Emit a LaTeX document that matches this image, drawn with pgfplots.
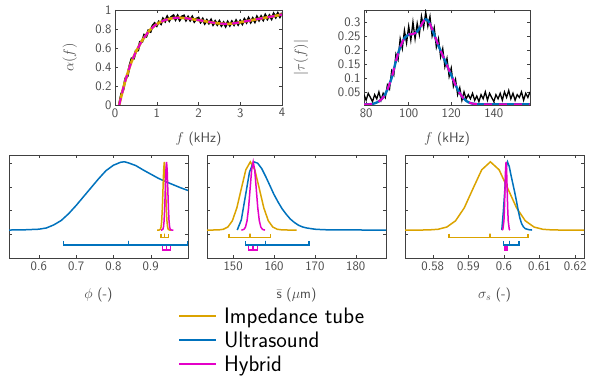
\documentclass[border=0pt]{standalone}
\usepackage{fontspec}
\renewcommand{\familydefault}{\sfdefault}
\usepackage{pgfplots}
\usepackage{pgfplotstable}
\pgfplotsset{compat=1.18}
\definecolor{cgold}{RGB}{219,163,0}
\definecolor{cblue}{RGB}{0,114,189}
\definecolor{cmag}{RGB}{228,0,200}
\definecolor{cgray}{RGB}{72,72,72}

\pgfplotstableread{
f a n
0.10 0.000 0.005
0.15 0.090 0.115
0.20 0.180 0.165
0.25 0.260 0.280
0.30 0.330 0.305
0.35 0.400 0.415
0.40 0.460 0.490
0.45 0.510 0.490
0.50 0.560 0.570
0.55 0.600 0.575
0.60 0.640 0.663
0.65 0.680 0.667
0.70 0.710 0.737
0.75 0.740 0.723
0.80 0.770 0.783
0.85 0.795 0.772
0.90 0.815 0.834
0.95 0.835 0.860
1.00 0.850 0.835
1.05 0.865 0.876
1.10 0.875 0.854
1.15 0.885 0.908
1.20 0.895 0.881
1.25 0.900 0.929
1.30 0.907 0.888
1.35 0.912 0.927
1.40 0.915 0.942
1.45 0.917 0.900
1.50 0.918 0.939
1.55 0.918 0.895
1.60 0.917 0.930
1.65 0.915 0.940
1.70 0.913 0.893
1.75 0.910 0.927
1.80 0.907 0.892
1.85 0.904 0.927
1.90 0.900 0.879
1.95 0.897 0.908
2.00 0.893 0.918
2.05 0.890 0.873
2.10 0.886 0.905
2.15 0.882 0.859
2.20 0.878 0.893
2.25 0.874 0.861
2.30 0.870 0.895
2.35 0.867 0.847
2.40 0.864 0.881
2.45 0.861 0.846
2.50 0.858 0.881
2.55 0.856 0.837
2.60 0.855 0.868
2.65 0.854 0.829
2.70 0.854 0.874
2.75 0.855 0.838
2.80 0.857 0.878
2.85 0.860 0.845
2.90 0.863 0.888
2.95 0.867 0.848
3.00 0.871 0.886
3.05 0.875 0.854
3.10 0.879 0.902
3.15 0.883 0.870
3.20 0.887 0.914
3.25 0.891 0.872
3.30 0.895 0.912
3.35 0.899 0.876
3.40 0.903 0.928
3.45 0.907 0.892
3.50 0.911 0.932
3.55 0.915 0.896
3.60 0.919 0.946
3.65 0.923 0.906
3.70 0.927 0.942
3.75 0.931 0.908
3.80 0.935 0.960
3.85 0.939 0.924
3.90 0.944 0.965
3.95 0.948 0.929
4.00 0.952 0.969
}\alphatab

\pgfplotstableread{
f t n
79 0.005 0.040
80 0.005 0.020
81 0.005 0.045
82 0.006 0.030
83 0.007 0.015
84 0.009 0.040
85 0.012 0.025
86 0.016 0.050
87 0.022 0.020
88 0.030 0.045
89 0.042 0.030
90 0.058 0.075
91 0.078 0.060
92 0.100 0.125
93 0.130 0.110
94 0.160 0.185
95 0.187 0.165
96 0.210 0.240
97 0.228 0.205
98 0.242 0.270
99 0.250 0.225
100 0.255 0.285
101 0.256 0.235
102 0.257 0.300
103 0.260 0.240
104 0.266 0.295
105 0.276 0.255
106 0.290 0.320
107 0.303 0.280
108 0.310 0.335
109 0.306 0.285
110 0.293 0.320
111 0.275 0.250
112 0.255 0.280
113 0.235 0.210
114 0.215 0.240
115 0.197 0.175
116 0.180 0.205
117 0.162 0.140
118 0.145 0.170
119 0.127 0.105
120 0.110 0.135
121 0.092 0.070
122 0.075 0.095
123 0.059 0.040
124 0.045 0.065
125 0.034 0.020
126 0.025 0.050
127 0.018 0.025
128 0.013 0.040
129 0.010 0.025
130 0.008 0.045
131 0.007 0.020
132 0.006 0.035
133 0.005 0.015
134 0.005 0.040
135 0.005 0.025
136 0.005 0.050
137 0.005 0.020
138 0.005 0.045
139 0.005 0.030
140 0.005 0.015
141 0.005 0.040
142 0.005 0.025
143 0.005 0.045
144 0.005 0.020
145 0.005 0.050
146 0.005 0.030
147 0.005 0.055
148 0.005 0.025
149 0.005 0.045
150 0.005 0.020
151 0.005 0.040
152 0.005 0.030
153 0.005 0.050
154 0.005 0.020
155 0.005 0.045
156 0.005 0.030
157 0.005 0.050
}\tautab

\pgfplotsset{
  common/.style={
    scale only axis,
    scaled ticks=false,
    axis line style={black!75},
    every tick/.style={black!75},
    major tick length=3bp,
    tick align=inside,
    ticklabel style={font=\fontsize{13}{13}\selectfont, text=cgray,
      /pgf/number format/fixed, /pgf/number format/precision=2},
    label style={font=\fontsize{14}{14}\selectfont, text=cgray},
    /pgf/number format/assume math mode=true,
  },
  pdfax/.style={
    common,
    width=179bp, height=103bp,
    ymin=-0.41, ymax=1.1,
    ytick={-0.06,0.29,0.63,0.98},
    yticklabels={,,,},
    xlabel style={at={(axis description cs:0.5,-0.36)}, anchor=center},
  },
}

\begin{document}
\begin{tikzpicture}
\useasboundingbox (0,0) rectangle (589bp,377bp);

% ---------- top left: alpha(f)
\begin{axis}[common,
  at={(115bp,272bp)}, anchor=south west,
  width=167bp, height=95bp,
  xmin=0, xmax=4, ymin=0, ymax=1,
  xtick={0,1,2,3,4}, ytick={0,0.2,0.4,0.6,0.8,1},
  xlabel={$f$ (kHz)}, ylabel={$\alpha(f)$},
  xlabel style={at={(axis description cs:0.5,-0.36)}, anchor=center},
  ylabel style={at={(axis description cs:-0.27,0.5)}, anchor=center},
]
\addplot[black, line width=2.2bp] table[x=f, y=n] {\alphatab};
\addplot[cgold, line width=2.6bp] table[x=f, y=a] {\alphatab};
\addplot[cmag, line width=2bp, dash pattern=on 7bp off 5bp] table[x=f, y=a] {\alphatab};
\end{axis}

% ---------- top right: |tau(f)|
\begin{axis}[common,
  at={(364bp,272bp)}, anchor=south west,
  width=166bp, height=95bp,
  xmin=79, xmax=157, ymin=0.003, ymax=0.343,
  xtick={80,100,120,140}, ytick={0.05,0.1,0.15,0.2,0.25,0.3},
  xlabel={$f$ (kHz)}, ylabel={$|\tau(f)|$},
  xlabel style={at={(axis description cs:0.5,-0.36)}, anchor=center},
  ylabel style={at={(axis description cs:-0.38,0.5)}, anchor=center},
]
\addplot[black, line width=1.3bp] table[x=f, y=n] {\tautab};
\addplot[cblue, line width=2.4bp] table[x=f, y=t] {\tautab};
\addplot[cmag, line width=2bp, dash pattern=on 8bp off 7bp] table[x=f, y=t] {\tautab};
\end{axis}

% ---------- bottom left: phi
\begin{axis}[pdfax,
  at={(9bp,119bp)}, anchor=south west,
  xmin=0.52, xmax=1.0,
  xtick={0.6,0.7,0.8,0.9},
  xlabel={$\phi$ (-)},
]
\addplot[cblue, line width=1.5bp] coordinates {
(0.52,0) (0.56,0.003) (0.60,0.012) (0.62,0.03) (0.64,0.075) (0.66,0.14)
(0.68,0.24) (0.70,0.36) (0.72,0.49) (0.74,0.62) (0.76,0.75) (0.78,0.87)
(0.80,0.95) (0.82,0.995) (0.83,1.0) (0.84,0.985) (0.86,0.945) (0.88,0.88)
(0.90,0.82) (0.92,0.76) (0.94,0.71) (0.96,0.665) (0.98,0.62) (1.00,0.58)};
\addplot[cgold, line width=1.5bp] coordinates {
(0.917,0) (0.9225,0.0003) (0.926,0.0111) (0.92775,0.0439) (0.9295,0.1353)
(0.93125,0.3247) (0.933,0.6065) (0.93475,0.8825) (0.9365,1) (0.93825,0.8825)
(0.94,0.6065) (0.94175,0.3247) (0.9435,0.1353) (0.94525,0.0439) (0.947,0.0111)
(0.9505,0.0003) (0.955,0)};
\addplot[cmag, line width=1.5bp] coordinates {
(0.928,0) (0.9293,0.0003) (0.9326,0.0111) (0.93425,0.0439) (0.9359,0.1353)
(0.93755,0.3247) (0.9392,0.6065) (0.94085,0.8825) (0.9425,1) (0.94415,0.8825)
(0.9458,0.6065) (0.94745,0.3247) (0.9491,0.1353) (0.95075,0.0439) (0.9524,0.0111)
(0.9557,0.0003) (0.961,0)};
\addplot[cgold, line width=1.4bp, forget plot] coordinates {
(0.9277,-0.053) (0.9277,-0.113) (0.9366,-0.113) (0.9366,-0.053) (0.9366,-0.113)
(0.9475,-0.113) (0.9475,-0.053)};
\addplot[cblue, line width=1.4bp, forget plot] coordinates {
(0.666,-0.16) (0.666,-0.22) (0.84,-0.22) (0.84,-0.16) (0.84,-0.22)
(0.998,-0.22) (0.998,-0.16)};
\addplot[cmag, line width=1.4bp, forget plot] coordinates {
(0.932,-0.234) (0.932,-0.294) (0.942,-0.294) (0.942,-0.234) (0.942,-0.294)
(0.953,-0.294) (0.953,-0.234)};
\end{axis}

% ---------- bottom middle: s bar
\begin{axis}[pdfax,
  at={(207bp,119bp)}, anchor=south west,
  xmin=143.6, xmax=187.4,
  xtick={150,160,170,180},
  xlabel={$\bar{\mathsf{s}}$ ($\mu$m)},
  legend style={at={(axis description cs:-0.162,-0.47)}, anchor=north west,
    draw=none, fill=none, font=\fontsize{22.5}{22.5}\selectfont,
    row sep=5bp, inner sep=0pt, nodes={inner sep=1bp}},
  legend cell align=left,
  legend image code/.code={\draw[#1, line width=1.8bp] (0bp,0bp) -- (37bp,0bp);},
]
\addplot[cgold, line width=1.5bp] coordinates {
(143.6,0) (145,0.0003) (146.5,0.0022) (147.6,0.0111) (148.7,0.0439) (149.8,0.1353)
(150.9,0.3247) (152.0,0.6065) (153.1,0.8825) (154.2,1) (155.3,0.8825)
(156.4,0.6065) (157.5,0.3247) (158.6,0.1353) (159.7,0.0439) (160.8,0.0111)
(161.9,0.0022) (163.5,0.0002) (165.5,0)};
\addlegendentry{\hspace{6bp}Impedance tube}
\addplot[cblue, line width=1.5bp] coordinates {
(151,0) (152,0.15) (153,0.5) (154,0.85) (155,1.0) (156,0.98) (157,0.9)
(158,0.78) (159,0.65) (160,0.52) (161,0.41) (162,0.31) (163,0.23) (164,0.16)
(165,0.11) (166,0.07) (167,0.045) (168,0.03) (170,0.012) (172,0.005)
(175,0.001) (187.4,0)};
\addlegendentry{\hspace{6bp}Ultrasound}
\addplot[cmag, line width=1.5bp] coordinates {
(152.0,0) (152.275,0.0022) (152.65,0.0111) (153.025,0.0439) (153.4,0.1353)
(153.775,0.3247) (154.15,0.6065) (154.525,0.8825) (154.9,1) (155.275,0.8825)
(155.65,0.6065) (156.025,0.3247) (156.4,0.1353) (156.775,0.0439) (157.15,0.0111)
(157.525,0.0022) (157.8,0)};
\addlegendentry{\hspace{6bp}Hybrid}
\addplot[cgold, line width=1.4bp, forget plot] coordinates {
(149.0,-0.053) (149.0,-0.113) (154.1,-0.113) (154.1,-0.053) (154.1,-0.113)
(159.2,-0.113) (159.2,-0.053)};
\addplot[cblue, line width=1.4bp, forget plot] coordinates {
(153.0,-0.16) (153.0,-0.22) (157.9,-0.22) (157.9,-0.16) (157.9,-0.22)
(168.6,-0.22) (168.6,-0.16)};
\addplot[cmag, line width=1.4bp, forget plot] coordinates {
(153.7,-0.234) (153.7,-0.294) (154.9,-0.294) (154.9,-0.234) (154.9,-0.294)
(156.0,-0.294) (156.0,-0.234)};
\end{axis}

% ---------- bottom right: sigma_s
\begin{axis}[pdfax,
  at={(405bp,119bp)}, anchor=south west,
  xmin=0.5722, xmax=0.6225,
  xtick={0.58,0.59,0.6,0.61,0.62},
  xlabel={$\sigma_s$ (-)},
]
\addplot[cgold, line width=1.5bp] coordinates {
(0.5722,0) (0.577,0.0002) (0.57905,0.0022) (0.5815,0.0111) (0.58395,0.0439)
(0.5864,0.1353) (0.58885,0.3247) (0.5913,0.6065) (0.59375,0.8825) (0.5962,1)
(0.59865,0.8825) (0.6011,0.6065) (0.60355,0.3247) (0.606,0.1353) (0.60845,0.0439)
(0.6109,0.0111) (0.61335,0.0022) (0.6155,0.0002) (0.6225,0)};
\addplot[cblue, line width=1.5bp] coordinates {
(0.5994,0) (0.5998,0.25) (0.6002,0.55) (0.6005,0.8) (0.6008,0.97) (0.601,1.0)
(0.6015,0.93) (0.602,0.8) (0.6025,0.68) (0.603,0.56) (0.6035,0.43) (0.604,0.29)
(0.6045,0.17) (0.605,0.09) (0.6055,0.045) (0.606,0.02) (0.607,0.005) (0.6079,0)};
\addplot[cmag, line width=1.5bp] coordinates {
(0.5995,0) (0.59955,0.0022) (0.5997,0.0111) (0.6,0.1353) (0.60015,0.3247)
(0.6003,0.6065) (0.60045,0.8825) (0.6006,1) (0.60075,0.8825) (0.6009,0.6065)
(0.60105,0.3247) (0.6012,0.1353) (0.6015,0.0111) (0.60165,0.0022) (0.6017,0)};
\addplot[cgold, line width=1.4bp, forget plot] coordinates {
(0.5846,-0.053) (0.5846,-0.113) (0.5961,-0.113) (0.5961,-0.053) (0.5961,-0.113)
(0.6068,-0.113) (0.6068,-0.053)};
\addplot[cblue, line width=1.4bp, forget plot] coordinates {
(0.5998,-0.16) (0.5998,-0.22) (0.6016,-0.22) (0.6016,-0.16) (0.6016,-0.22)
(0.6042,-0.22) (0.6042,-0.16)};
\addplot[cmag, line width=2.4bp, forget plot] coordinates {
(0.6003,-0.234) (0.6003,-0.294) (0.6005,-0.294) (0.6005,-0.234) (0.6005,-0.294)
(0.6008,-0.294) (0.6008,-0.234)};
\end{axis}
\end{tikzpicture}
\end{document}
